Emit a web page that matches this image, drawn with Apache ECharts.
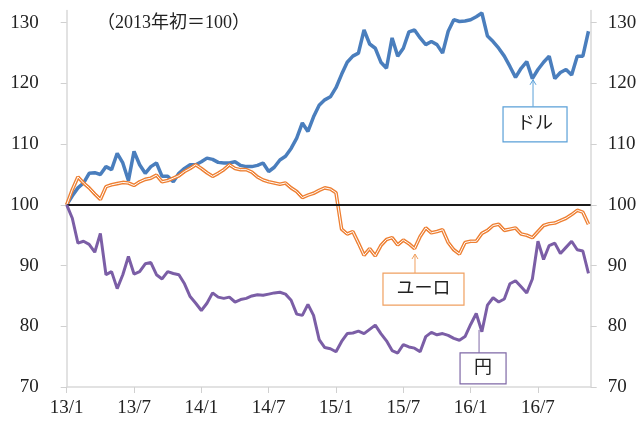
<!DOCTYPE html>
<html>
<head>
<meta charset="utf-8">
<script src="https://cdn.jsdelivr.net/npm/echarts@6/dist/echarts.min.js"></script>
<style>
  html, body { margin: 0; padding: 0; background: #fff; }
  #main { width: 640px; height: 421px; }
</style>
</head>
<body>
<div id="main"></div>
<script>
// half-month steps from 2013/1 (value = months since 2013/1)
const STEP = 0.5;

// ドル (2013年初=100)
const usd = [
  100, 101.5, 102.8, 103.6, 105.2, 105.3, 105.0, 106.3, 105.8, 108.5,
  106.9, 104.0, 108.8, 106.6, 105.2, 106.3, 106.9, 104.7, 104.7, 103.8,
  105.2, 106.0, 106.6, 106.6, 107.1, 107.7, 107.5, 107.0, 106.9, 106.9,
  107.1, 106.5, 106.3, 106.3, 106.5, 106.9, 105.5, 106.2, 107.4, 108.0,
  109.3, 111.0, 113.5, 112.1, 114.5, 116.4, 117.3, 117.8, 119.3, 121.5,
  123.5, 124.5, 125.0, 128.8, 126.5, 125.8, 123.5, 122.5, 127.5, 124.5,
  125.8, 128.5, 128.8, 127.5, 126.4, 126.9, 126.4, 125.0, 128.6, 130.5,
  130.2, 130.3, 130.5, 131.0, 131.6, 127.8, 126.9, 125.8, 124.5, 122.8,
  121.0, 122.5, 123.6, 120.8, 122.3, 123.5, 124.5, 120.8, 121.8, 122.3,
  121.4, 124.5, 124.5, 128.6
];

// ユーロ
const eur = [
  100, 102.5, 104.6, 103.6, 102.8, 101.8, 100.9, 103.0, 103.3, 103.5,
  103.7, 103.6, 103.2, 103.8, 104.2, 104.4, 104.9, 103.8, 104.0, 104.4,
  104.8, 105.5, 106.0, 106.6, 106.0, 105.3, 104.7, 105.2, 105.8, 106.6,
  106.0, 105.8, 105.8, 105.4, 104.6, 104.1, 103.8, 103.6, 103.4, 103.6,
  102.8, 102.2, 101.2, 101.6, 101.9, 102.4, 102.8, 102.6, 102.0, 96.0,
  95.2, 95.6, 93.7, 91.7, 92.8, 91.6, 93.3, 94.3, 94.6, 93.4,
  94.2, 93.6, 92.8, 94.8, 96.2, 95.4, 95.6, 95.9, 93.8, 92.6,
  91.9, 93.8, 94.0, 94.0, 95.3, 95.8, 96.6, 96.8, 95.8, 96.0,
  96.2, 95.2, 95.0, 94.6, 95.6, 96.6, 96.9, 97.0, 97.4, 97.8,
  98.4, 99.1, 98.8, 96.8
];

// 円
const jpy = [
  100, 97.8, 93.7, 94.0, 93.5, 92.2, 95.3, 88.5, 89.0, 86.2,
  88.5, 91.5, 88.6, 89.0, 90.3, 90.5, 88.5, 87.8, 89.0, 88.7,
  88.5, 87.0, 84.9, 83.8, 82.6, 83.8, 85.5, 84.8, 84.6, 84.8,
  84.0, 84.4, 84.6, 85.0, 85.2, 85.1, 85.3, 85.5, 85.6, 85.3,
  84.3, 82.0, 81.8, 83.6, 81.8, 77.8, 76.5, 76.3, 75.8, 77.5,
  78.8, 78.9, 79.2, 78.8, 79.5, 80.2, 78.8, 77.6, 76.0, 75.6,
  77.0, 76.6, 76.4, 75.8, 78.3, 79.0, 78.6, 78.8, 78.5, 78.0,
  77.7, 78.3, 80.3, 82.1, 79.1, 83.5, 84.7, 84.0, 84.5, 87.0,
  87.5, 86.5, 85.5, 87.8, 94.0, 91.0, 93.3, 93.7, 92.0, 93.0,
  94.0, 92.6, 92.4, 88.7
];

const yTicks = [70, 80, 90, 100, 110, 120, 130];
const xTicks = [0, 6, 12, 18, 24, 30, 36, 42];
const baseLine = 100;
const titleText = '（2013年初＝100）';

const FONT = "'Liberation Serif', 'Noto Sans CJK JP', serif";
const toPairs = (arr) => arr.map((v, i) => [i * STEP, v]);

const chartDom = document.getElementById('main');
const myChart = echarts.init(chartDom);

const yAxisBase = {
  type: 'value',
  min: 70,
  max: 132,
  axisLine: { show: true, lineStyle: { color: '#d9d9d9', width: 1.5 } },
  axisTick: { show: true, length: 6, customValues: yTicks, lineStyle: { color: '#d0d0d0' } },
  splitLine: { show: false },
  axisLabel: { color: '#222', fontSize: 19, fontFamily: FONT, customValues: yTicks }
};

const option = {
  animation: false,
  grid: { left: 66.7, right: 49.3, top: 10.6, bottom: 34 },
  title: {
    text: titleText,
    left: 92,
    top: 9,
    textStyle: { fontFamily: FONT, fontSize: 18, fontWeight: 'normal', color: '#222' }
  },
  xAxis: {
    type: 'value',
    min: 0,
    max: 46.7,
    axisLine: { lineStyle: { color: '#d9d9d9', width: 1.5 } },
    axisTick: { length: 6, customValues: xTicks, lineStyle: { color: '#d0d0d0' } },
    splitLine: { show: false },
    axisLabel: {
      color: '#222',
      fontSize: 19,
      fontFamily: FONT,
      margin: 12,
      customValues: xTicks,
      formatter: (m) => (13 + Math.floor(m / 12)) + '/' + (m % 12 + 1)
    }
  },
  yAxis: [
    Object.assign({}, yAxisBase, { position: 'left', axisLabel: Object.assign({}, yAxisBase.axisLabel, { margin: 28 }) }),
    Object.assign({}, yAxisBase, { position: 'right', axisLabel: Object.assign({}, yAxisBase.axisLabel, { margin: 17 }) })
  ],
  series: [
    {
      name: 'base',
      type: 'line',
      data: [],
      z: 1,
      markLine: {
        silent: true,
        symbol: 'none',
        label: { show: false },
        lineStyle: { color: '#1a1a1a', width: 2, type: 'solid' },
        data: [{ yAxis: baseLine }]
      }
    },
    {
      name: 'ドル',
      type: 'line',
      data: toPairs(usd),
      showSymbol: false,
      z: 3,
      lineStyle: { color: '#4a7ebd', width: 3.5 }
    },
    {
      name: 'ユーロ',
      type: 'line',
      data: toPairs(eur),
      showSymbol: false,
      z: 3,
      lineStyle: { color: '#ee7f32', width: 3.6 }
    },
    {
      name: 'ユーロ_inner',
      type: 'line',
      data: toPairs(eur),
      showSymbol: false,
      z: 4,
      lineStyle: { color: '#ffffff', width: 1 }
    },
    {
      name: '円',
      type: 'line',
      data: toPairs(jpy),
      showSymbol: false,
      z: 5,
      lineStyle: { color: '#7b5ea6', width: 3 }
    }
  ]
};

myChart.setOption(option);

// callout boxes, anchored at a point on the series
const notes = [
  { text: 'ドル', at: [41.56, 120.6], dx: -30, dy: 27, w: 64, h: 35, color: '#5aa0d8', arrow: true },
  { text: 'ユーロ', at: [31.04, 91.9], dx: -32, dy: 19, w: 81, h: 32, color: '#f0a060', arrow: true },
  { text: '円', at: [36.75, 79.4], dx: -19, dy: 23, w: 46, h: 31, color: '#7f68a6', arrow: false }
];

const graphics = [];
notes.forEach((n) => {
  const tip = myChart.convertToPixel({ gridIndex: 0 }, n.at);
  const bx = tip[0] + n.dx;
  const by = tip[1] + n.dy;
  graphics.push({
    type: 'line',
    z: 20,
    shape: { x1: tip[0], y1: by, x2: tip[0], y2: tip[1] },
    style: { stroke: n.color, lineWidth: 1 }
  });
  if (n.arrow) {
    graphics.push({
      type: 'polyline',
      z: 20,
      shape: { points: [[tip[0] - 3, tip[1] + 5], [tip[0], tip[1]], [tip[0] + 3, tip[1] + 5]] },
      style: { stroke: n.color, lineWidth: 1, fill: null }
    });
  }
  graphics.push({
    type: 'rect',
    z: 20,
    shape: { x: bx, y: by, width: n.w, height: n.h },
    style: { fill: '#fff', stroke: n.color, lineWidth: 1.2 }
  });
  graphics.push({
    type: 'text',
    z: 21,
    x: bx + n.w / 2,
    y: by + n.h / 2,
    style: {
      text: n.text,
      fill: '#222',
      font: '18px ' + FONT,
      align: 'center',
      verticalAlign: 'middle'
    }
  });
});

myChart.setOption({ graphic: graphics });
</script>
</body>
</html>
